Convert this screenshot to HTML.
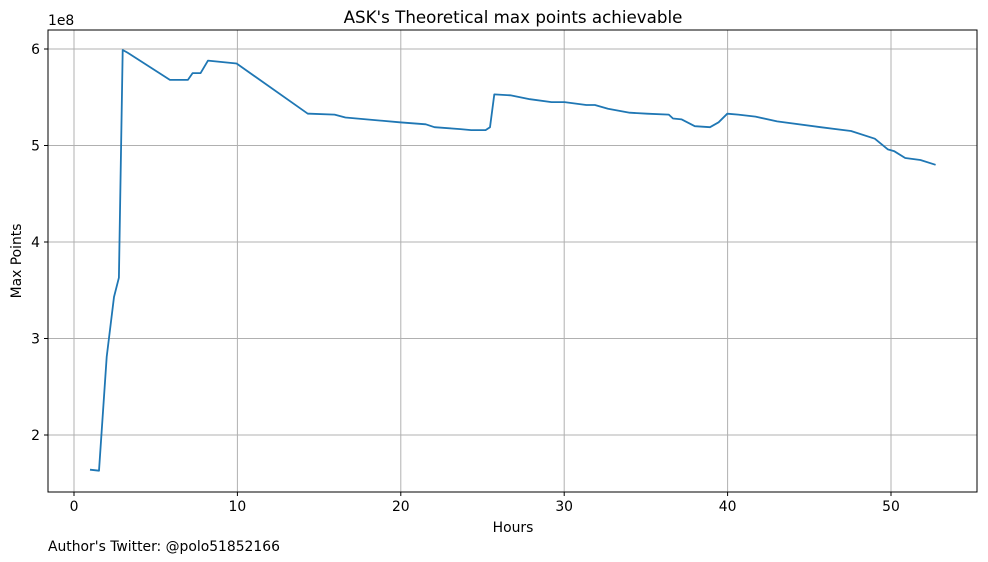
<!DOCTYPE html>
<html><head><meta charset="utf-8"><style>
html,body{margin:0;padding:0;background:#fff;}
svg{display:block;font-family:"DejaVu Sans","Liberation Sans",sans-serif;}
</style></head><body>
<svg id="chart" width="988" height="562" viewBox="0 0 988 562" xmlns="http://www.w3.org/2000/svg">
<rect width="988" height="562" fill="#fff"/>
<g id="grid"></g>
<g id="axes"></g>
<path id="series" fill="none" stroke="#1f77b4" stroke-width="1.8" stroke-linejoin="round"/>
<rect x="48" y="30" width="929" height="462" fill="none" stroke="#000" stroke-width="1"/>
<text x="513" y="23" font-size="16.7" text-anchor="middle">ASK's Theoretical max points achievable</text>
<text x="48" y="25" font-size="13.9">1e8</text>
<text x="0" y="0" font-size="13.9" text-anchor="middle" transform="translate(21,261) rotate(-90)">Max Points</text>
<text x="513" y="532" font-size="13.9" text-anchor="middle">Hours</text>
<text x="48" y="551" font-size="13.9">Author's Twitter: @polo51852166</text>
</svg>
<script>
const hours=[0.98,1.53,2.0,2.45,2.75,2.98,3.30,5.87,6.97,7.26,7.75,8.20,9.95,14.31,14.41,15.95,16.61,19.93,21.53,22.06,23.65,24.31,25.19,25.46,25.72,26.70,27.90,29.22,30.02,31.35,31.88,32.68,34.01,35.07,36.40,36.66,37.19,37.99,38.92,39.45,39.98,40.65,41.71,43.03,45.69,47.55,49.01,49.81,50.21,50.87,51.80,52.73];
const maxPoints=[1.64,1.63,2.81,3.43,3.63,5.99,5.96,5.68,5.68,5.75,5.75,5.88,5.85,5.33,5.33,5.32,5.29,5.24,5.22,5.19,5.17,5.16,5.16,5.19,5.53,5.52,5.48,5.45,5.45,5.42,5.42,5.38,5.34,5.33,5.32,5.28,5.27,5.20,5.19,5.24,5.33,5.32,5.30,5.25,5.19,5.15,5.07,4.96,4.94,4.87,4.85,4.80];
const xTicks=[0,10,20,30,40,50];
const yTicks=[2,3,4,5,6];
const NS="http://www.w3.org/2000/svg";
function xs(h){return 74+h*(891-74)/50;}
function ys(v){return 435-(v-2)*(435-49)/4;}
const grid=document.getElementById('grid'),axes=document.getElementById('axes');
function mk(tag,attrs,parent){const e=document.createElementNS(NS,tag);for(const k in attrs)e.setAttribute(k,attrs[k]);parent.appendChild(e);return e;}
xTicks.forEach(t=>{
  const x=xs(t);
  const g=mk('line',{x1:x,x2:x,y1:30,y2:492,stroke:'#b0b0b0','stroke-width':1},grid);
  
  
  const tk=mk('line',{x1:x,x2:x,y1:492,y2:496,stroke:'#000'},axes);
  
  
  const tx=mk('text',{x:x,y:511,'font-size':13.9,'text-anchor':'middle'},axes);
  tx.textContent=t;
  
  
});
yTicks.forEach(t=>{
  const y=ys(t);
  const g=mk('line',{x1:48,x2:977,y1:y,y2:y,stroke:'#b0b0b0','stroke-width':1},grid);
  
  
  const tk=mk('line',{x1:44,x2:48,y1:y,y2:y,stroke:'#000'},axes);
  
  
  const tx=mk('text',{x:40,y:y+5,'font-size':13.9,'text-anchor':'end'},axes);
  tx.textContent=t;
  
  
});
document.getElementById('series').setAttribute('d',hours.map((h,i)=>(i?'L':'M')+xs(h).toFixed(1)+','+ys(maxPoints[i]).toFixed(1)).join(' '));
</script>
</body></html>
